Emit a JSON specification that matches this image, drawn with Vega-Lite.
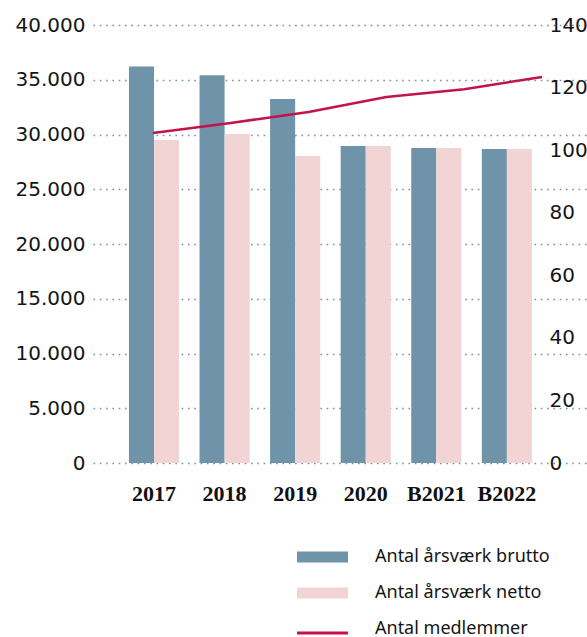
{
  "$schema": "https://vega.github.io/schema/vega-lite/v6.json",
  "width": 494,
  "height": 438,
  "autosize": {"type": "none"},
  "padding": {"left": 93, "top": 25, "right": 0, "bottom": 174},
  "background": "white",
  "config": {"view": {"stroke": null}},
  "data": {
    "values": [
      {"year": "2017", "serie": "Antal årsværk brutto", "value": 36200},
      {"year": "2018", "serie": "Antal årsværk brutto", "value": 35400},
      {"year": "2019", "serie": "Antal årsværk brutto", "value": 33250},
      {"year": "2020", "serie": "Antal årsværk brutto", "value": 28950},
      {"year": "B2021", "serie": "Antal årsværk brutto", "value": 28770},
      {"year": "B2022", "serie": "Antal årsværk brutto", "value": 28680},
      {"year": "2017", "serie": "Antal årsværk netto", "value": 29500},
      {"year": "2018", "serie": "Antal årsværk netto", "value": 30050},
      {"year": "2019", "serie": "Antal årsværk netto", "value": 28040},
      {"year": "2020", "serie": "Antal årsværk netto", "value": 28950},
      {"year": "B2021", "serie": "Antal årsværk netto", "value": 28770},
      {"year": "B2022", "serie": "Antal årsværk netto", "value": 28680},
      {"year": "2017", "serie": "Antal medlemmer", "value": 105.5},
      {"year": "2018", "serie": "Antal medlemmer", "value": 108.7},
      {"year": "2019", "serie": "Antal medlemmer", "value": 112.2},
      {"year": "2020", "serie": "Antal medlemmer", "value": 117.0},
      {"year": "B2021", "serie": "Antal medlemmer", "value": 119.5},
      {"year": "B2022", "serie": "Antal medlemmer", "value": 123.4}
    ]
  },
  "layer": [
    {
      "transform": [{"filter": "datum.serie !== 'Antal medlemmer'"}],
      "mark": {"type": "bar"},
      "encoding": {
        "x": {
          "field": "year", "type": "nominal", "sort": null,
          "scale": {"type": "band", "range": [0, 494], "paddingInner": 0.29, "paddingOuter": 0.645, "align": 0.395},
          "axis": {
            "orient": "bottom",
            "domain": false,
            "ticks": false,
            "labelAngle": 0,
            "labelFont": "Liberation Serif",
            "labelFontWeight": "bold",
            "labelFontSize": 22,
            "labelColor": "#111111",
            "labelPadding": 20,
            "title": null
          }
        },
        "xOffset": {
          "field": "serie", "type": "nominal", "sort": null,
          "scale": {"domain": ["Antal årsværk brutto", "Antal årsværk netto"], "paddingInner": 0, "paddingOuter": 0}
        },
        "y": {
          "field": "value", "type": "quantitative",
          "scale": {"domain": [0, 40000]},
          "axis": {
            "orient": "left",
            "values": [0, 5000, 10000, 15000, 20000, 25000, 30000, 35000, 40000],
            "labelExpr": "replace(format(datum.value, ','), ',', '.')",
            "grid": true,
            "gridDash": [1.6, 4.7],
            "gridWidth": 1.6,
            "gridColor": "#6f93a8",
            "domain": false,
            "ticks": false,
            "labelPadding": 8,
            "labelFont": "DejaVu Sans",
            "labelFontSize": 20,
            "labelColor": "#151515",
            "title": null
          }
        },
        "color": {
          "field": "serie", "type": "nominal",
          "scale": {
            "domain": ["Antal årsværk brutto", "Antal årsværk netto", "Antal medlemmer"],
            "range": ["#6f93a8", "#f2d4d4", "#c2134b"]
          },
          "legend": {
            "title": null,
            "orient": "none",
            "legendX": 204,
            "legendY": 521,
            "padding": 0,
            "direction": "vertical",
            "labelOffset": 27,
            "rowPadding": 14,
            "clipHeight": 22,
            "symbolSize": 2601,
            "labelFont": "Noto Sans",
            "labelFontSize": 18,
            "labelColor": "#151515",
            "labelLimit": 400,
            "encode": {
              "symbols": {
                "update": {
                  "fill": {"scale": "color", "field": "value"},
                  "stroke": {"value": "transparent"},
                  "strokeWidth": {"value": 0},
                  "opacity": {"value": 1},
                  "size": {"value": 2601},
                  "shape": {"signal": "datum.value === 'Antal medlemmer' ? 'M-1,0.1H1V0.22H-1Z' : 'M-1,-0.22H1V0.22H-1Z'"}
                }
              }
            }
          }
        }
      }
    },
    {
      "transform": [{"filter": "datum.serie === 'Antal medlemmer'"}],
      "mark": {"type": "line", "strokeWidth": 2.5},
      "encoding": {
        "x": {
          "field": "year", "type": "ordinal", "sort": null,
          "scale": {"type": "point", "range": [60, 449], "padding": 0},
          "axis": null
        },
        "y": {
          "field": "value", "type": "quantitative",
          "scale": {"domain": [0, 140]},
          "axis": {
            "orient": "right",
            "values": [0, 20, 40, 60, 80, 100, 120, 140],
            "grid": false,
            "domain": false,
            "ticks": false,
            "labelPadding": -38,
            "labelAlign": "left",
            "labelFont": "DejaVu Sans",
            "labelFontSize": 20,
            "labelColor": "#151515",
            "title": null
          }
        },
        "color": {"field": "serie", "type": "nominal"}
      }
    }
  ],
  "resolve": {
    "scale": {"x": "independent", "y": "independent"},
    "axis": {"x": "independent", "y": "independent"}
  }
}
